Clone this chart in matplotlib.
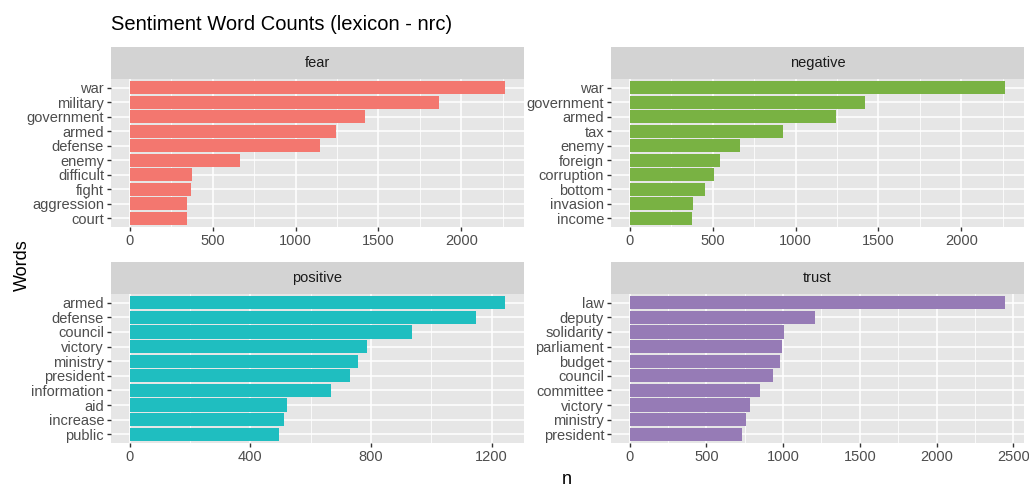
import matplotlib
matplotlib.use("Agg")
import matplotlib.pyplot as plt
from matplotlib.patches import Rectangle

plt.rcParams["font.family"] = ["Liberation Sans Narrow", "Liberation Sans", "DejaVu Sans"]

# datos
fear_words = ["war", "military", "government", "armed", "defense", "enemy",
              "difficult", "fight", "aggression", "court"]
fear_n = [2265, 1863, 1422, 1245, 1147, 666, 375, 369, 347, 347]

negative_words = ["war", "government", "armed", "tax", "enemy", "foreign",
                  "corruption", "bottom", "invasion", "income"]
negative_n = [2265, 1422, 1245, 924, 666, 544, 506, 452, 380, 374]

positive_words = ["armed", "defense", "council", "victory", "ministry", "president",
                  "information", "aid", "increase", "public"]
positive_n = [1245, 1147, 936, 785, 757, 731, 666, 521, 512, 494]

trust_words = ["law", "deputy", "solidarity", "parliament", "budget", "council",
               "committee", "victory", "ministry", "president"]
trust_n = [2448, 1210, 1006, 995, 978, 936, 846, 785, 757, 731]

panels = [
    ("fear", fear_words, fear_n, "#F3776F", [0, 500, 1000, 1500, 2000]),
    ("negative", negative_words, negative_n, "#79B243", [0, 500, 1000, 1500, 2000]),
    ("positive", positive_words, positive_n, "#1FBEC0", [0, 400, 800, 1200]),
    ("trust", trust_words, trust_n, "#967BB6", [0, 500, 1000, 1500, 2000, 2500]),
]

W, H = 1029, 486
fig = plt.figure(figsize=(W / 100, H / 100), dpi=100)

# cajas de los paneles en pixeles (left, right, top, bottom)
boxes = [(111, 524, 79, 227), (611, 1024, 79, 227),
         (111, 524, 294, 443), (611, 1024, 294, 443)]
strip_h = 32

for (name, words, n, color, ticks), (l, r, t, b) in zip(panels, boxes):
    ax = fig.add_axes([l / W, 1 - b / H, (r - l) / W, (b - t) / H])
    ax.set_facecolor("#E6E6E6")
    ypos = list(range(len(words)))[::-1]
    ax.barh(ypos, n, height=0.9, color=color, zorder=2)
    mx = max(n)
    lo, hi = -0.05 * mx, 1.05 * mx
    step = ticks[1] - ticks[0]
    minor = [tk + step / 2 for tk in ticks if tk + step / 2 < hi]
    ax.set_yticks(ypos)
    ax.set_yticklabels(words)
    ax.set_xticks(ticks)
    ax.set_xticks(minor, minor=True)
    ax.set_xlim(lo, hi)
    ax.set_ylim(-0.6, len(words) - 0.4)
    ax.grid(True, which="major", color="white", linewidth=1.1, zorder=0)
    ax.grid(True, which="minor", axis="x", color="white", linewidth=0.55, zorder=0)
    ax.set_axisbelow(True)
    for s in ax.spines.values():
        s.set_visible(False)
    ax.tick_params(axis="both", which="major", length=3, width=1, color="#333333",
                   labelcolor="#4D4D4D", labelsize=10.5, pad=2)
    ax.tick_params(axis="x", which="minor", length=0)
    # strip de la faceta
    strip = Rectangle((0, 1), 1, strip_h / (b - t), transform=ax.transAxes,
                      facecolor="#D3D3D3", edgecolor="none", clip_on=False)
    ax.add_patch(strip)
    ax.text(0.5, 1 + strip_h / 2 / (b - t), name, transform=ax.transAxes,
            ha="center", va="center", fontsize=10.5, color="#1A1A1A")

fig.text(111 / W, 1 - 25 / H, "Sentiment Word Counts (lexicon - nrc)",
         ha="left", va="center", fontsize=14.5, color="black")
fig.text(22 / W, 1 - 265 / H, "Words", rotation=90, ha="center", va="center",
         fontsize=13, color="black")
fig.text(567 / W, 1 - 479 / H, "n", ha="center", va="center", fontsize=13,
         color="black")

fig.savefig("out.png", dpi=100)
